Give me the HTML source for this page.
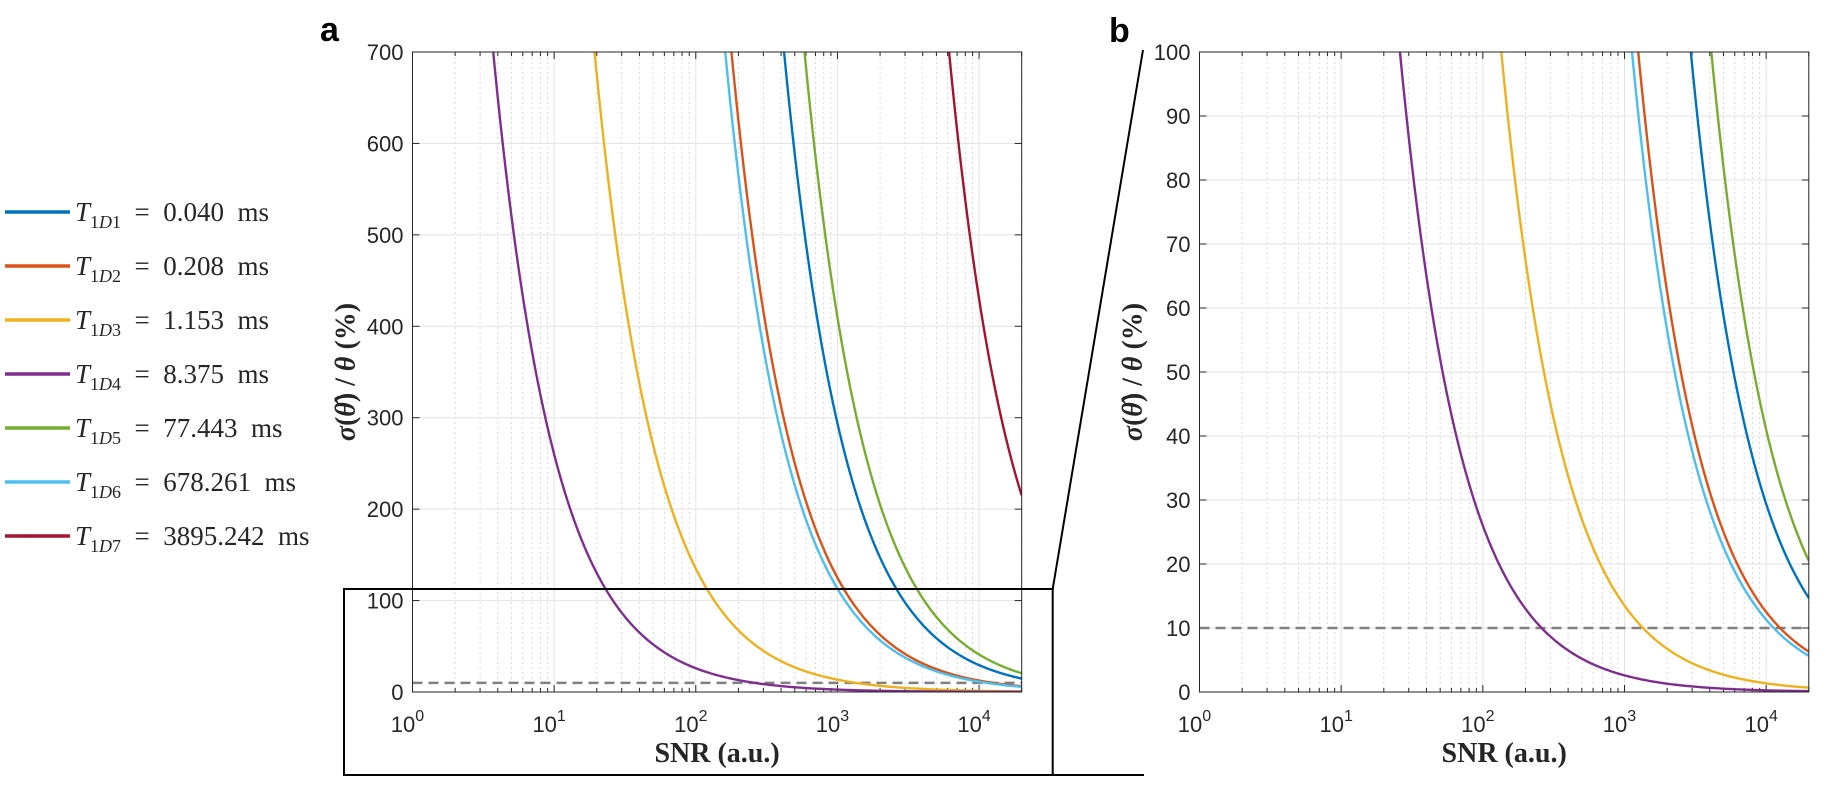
<!DOCTYPE html>
<html><head><meta charset="utf-8">
<style>
body{margin:0;background:#fff;}
svg{display:block;font-family:"Liberation Sans",sans-serif;}
.ser{font-family:"Liberation Serif",serif;}
</style></head>
<body>
<svg id="fig" width="1823" height="786" viewBox="0 0 1823 786" xmlns="http://www.w3.org/2000/svg"></svg>
<script>
const snrGrid=[1,2,5,10,20,50,100,200,500,1000,2000,5000,10000,20000];
const seriesNames=["T1D1","T1D2","T1D3","T1D4","T1D5","T1D6","T1D7"];
const legendLabels=["0.040","0.208","1.153","8.375","77.443","678.261","3895.242"];
const colors=["#0072BD","#D95319","#EDB120","#7E2F8E","#77AC30","#4DBEEE","#A2142F"];
const valsD1=[294000,147000,58800,29400,14700,5880,2940,1470,588,294,147,58.8,29.4,14.7];
const valsD2=[125000,62500,25000,12500,6250,2500,1250,625,250,125,62.5,25,12.5,6.3];
const valsD3=[13500,6750,2700,1350,675,270,135,67.5,27,13.5,6.75,2.7,1.35,0.68];
const valsD4=[2600,1300,520,260,130,52,26,13,5.2,2.6,1.3,0.52,0.26,0.13];
const valsD5=[410000,205000,82000,41000,20500,8200,4100,2050,820,410,205,82,41,20.5];
const valsD6=[113000,56500,22600,11300,5650,2260,1130,565,226,113,56.5,22.6,11.3,5.65];
const valsD7=[4300000,2150000,860000,430000,215000,86000,43000,21500,8600,4300,2150,860,430,215];
const allVals=[valsD1,valsD2,valsD3,valsD4,valsD5,valsD6,valsD7];
const threshold=10;
const xDomain=[1,20000];
const yTicksA=[0,100,200,300,400,500,600,700];
const yTicksB=[0,10,20,30,40,50,60,70,80,90,100];
const xTicks=[0,1,2,3,4];

const NS="http://www.w3.org/2000/svg";
const svg=document.getElementById('fig');
function mk(tag,attrs,parent){const e=document.createElementNS(NS,tag);for(const k in attrs)e.setAttribute(k,attrs[k]);(parent||svg).appendChild(e);return e;}

function panel(L,R,T,B,ymax,yTicks,tag){
  const g=mk('g',{});
  
  
  const lx0=Math.log10(xDomain[0]),lx1=Math.log10(xDomain[1]);
  const X=v=>L+(Math.log10(v)-lx0)/(lx1-lx0)*(R-L);
  const Y=v=>B-v/ymax*(B-T);
  const clip=mk('clipPath',{id:'clip'+tag},g);
  mk('rect',{x:L,y:T,width:R-L,height:B-T},clip);
  for(let d=0;d<5;d++)for(let m=2;m<10;m++){const v=m*Math.pow(10,d);if(v>xDomain[1])continue;
    const l=mk('line',{x1:X(v),x2:X(v),y1:T,y2:B,stroke:'#d8d8d8','stroke-width':1,'stroke-dasharray':'2,3'},g);
    
    mk('line',{x1:X(v),x2:X(v),y1:B,y2:B-4,stroke:'#262626','stroke-width':1},g);
    mk('line',{x1:X(v),x2:X(v),y1:T,y2:T+4,stroke:'#262626','stroke-width':1},g);}
  xTicks.forEach(d=>{const v=Math.pow(10,d);
    const l=mk('line',{x1:X(v),x2:X(v),y1:T,y2:B,stroke:'#e3e3e3','stroke-width':1},g);
    
    const t=mk('text',{x:X(v)-5,y:B+40,'font-size':22,fill:'#262626','text-anchor':'middle'},g);
    
    t.textContent='10';
    const s=mk('tspan',{dy:-11,'font-size':16},t);s.textContent=String(d);
    mk('line',{x1:X(v),x2:X(v),y1:B,y2:B-7,stroke:'#262626','stroke-width':1},g);
    mk('line',{x1:X(v),x2:X(v),y1:T,y2:T+7,stroke:'#262626','stroke-width':1},g);
  });
  yTicks.forEach(v=>{
    const l=mk('line',{x1:L,x2:R,y1:Y(v),y2:Y(v),stroke:'#e3e3e3','stroke-width':1},g);
    
    const t=mk('text',{x:L-9,y:Y(v)+8,'font-size':22,fill:'#262626','text-anchor':'end'},g);
    
    t.textContent=String(v);
    mk('line',{x1:L,x2:L+7,y1:Y(v),y2:Y(v),stroke:'#262626','stroke-width':1},g);
    mk('line',{x1:R,x2:R-7,y1:Y(v),y2:Y(v),stroke:'#262626','stroke-width':1},g);
  });
  const cg=mk('g',{'clip-path':'url(#clip'+tag+')'},g);
  const th=mk('line',{x1:L,x2:R,y1:Y(threshold),y2:Y(threshold),stroke:'#808080','stroke-width':2.5,'stroke-dasharray':'10,6'},cg);
  
  allVals.forEach((vals,i)=>{
    let d='';
    for(let k=0;k<snrGrid.length-1;k++){
      const a=Math.log10(snrGrid[k]),b=Math.log10(snrGrid[k+1]);
      const va=Math.log10(vals[k]),vb=Math.log10(vals[k+1]);
      for(let s=0;s<20;s++){const t=s/20;const x=a+(b-a)*t;const y=Math.pow(10,va+(vb-va)*t);
        const py=Math.max(T-50,Y(y));
        d+=(d?'L':'M')+X(Math.pow(10,x)).toFixed(2)+','+py.toFixed(2);}
    }
    d+='L'+X(snrGrid[snrGrid.length-1]).toFixed(2)+','+Math.max(T-50,Y(vals[vals.length-1])).toFixed(2);
    const p=mk('path',{d:d,fill:'none',stroke:colors[i],'stroke-width':2.4},cg);
    
    
  });
  const box=mk('rect',{x:L,y:T,width:R-L,height:B-T,fill:'none',stroke:'#262626','stroke-width':1},g);
  
  const xl=mk('text',{x:(L+R)/2,y:B+70,'font-size':28,'font-weight':'bold','text-anchor':'middle',class:'ser',fill:'#262626'},g);
  
  xl.textContent='SNR (a.u.)';
  const yx=L-58,yy=(T+B)/2;
  const yl=mk('text',{x:yx,y:yy,'font-size':28,'font-weight':'bold','text-anchor':'middle',class:'ser',fill:'#262626',transform:'rotate(-90 '+yx+' '+yy+')'},g);
  
  yl.innerHTML='<tspan font-style="italic">σ</tspan>(<tspan font-style="italic">θ̂</tspan>) / <tspan font-style="italic">θ</tspan> (%)';
}
panel(412.5,1021.7,52,692,700,yTicksA,'a');
panel(1199.5,1808.8,52,692,100,yTicksB,'b');

let t=mk('text',{x:320,y:41,'font-size':34,'font-weight':'bold',fill:'#000'});t.textContent='a';

t=mk('text',{x:1109,y:42,'font-size':34,'font-weight':'bold',fill:'#000'});t.textContent='b';


const zb=mk('path',{d:'M344,589 L1052.7,589 L1052.7,775 L344,775 Z',fill:'none',stroke:'#000','stroke-width':2});

const c1=mk('line',{x1:1052.7,y1:589,x2:1143,y2:50,stroke:'#000','stroke-width':2});

const c2=mk('line',{x1:1052.7,y1:775,x2:1144,y2:775,stroke:'#000','stroke-width':2});


const lg=mk('g',{});

legendLabels.forEach((lab,i)=>{
  const y=212+i*54;
  const e=mk('g',{},lg);
  
  mk('line',{x1:5,x2:70,y1:y,y2:y,stroke:colors[i],'stroke-width':3.5},e);
  const tx=mk('text',{x:75,y:y+9,'font-size':27,class:'ser',fill:'#262626'},e);
  tx.innerHTML='<tspan font-style="italic">T</tspan><tspan font-size="18" dy="7">1<tspan font-style="italic">D</tspan>'+(i+1)+'</tspan><tspan dy="-7">&#160;&#160;=&#160;&#160;'+lab+'&#160;&#160;ms</tspan>';
});
</script>
</body></html>
